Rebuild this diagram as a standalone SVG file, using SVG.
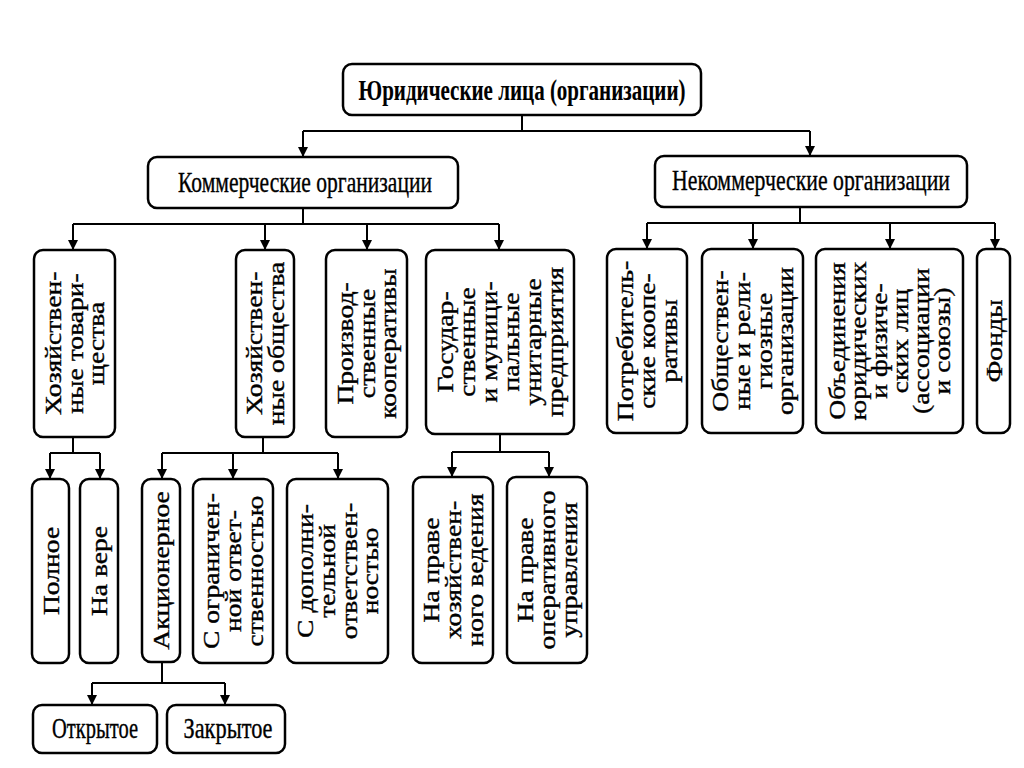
<svg xmlns="http://www.w3.org/2000/svg" width="1024" height="768" viewBox="0 0 1024 768">
<style>
.box{fill:#fff;stroke:#000;stroke-width:2.5}
.ln{fill:none;stroke:#000;stroke-width:2}
.t{font-family:"Liberation Serif","Times New Roman",serif;font-size:23px;fill:#000;stroke:#000;stroke-width:0.35;text-anchor:middle}
.h{font-family:"Liberation Serif","Times New Roman",serif;font-size:24px;fill:#000;stroke:#000;stroke-width:0.3;text-anchor:middle}
.b{font-weight:bold;stroke-width:0.1}
</style>
<defs>
<marker id="ar" viewBox="0 0 10 10" refX="10" refY="5" markerWidth="14" markerHeight="10" markerUnits="userSpaceOnUse" orient="auto">
<path d="M0,0 L10,5 L0,10 Z" fill="#000"/>
</marker>
</defs>
<rect width="1024" height="768" fill="#fff"/>

<g id="connectors">
<path class="ln" d="M522,115 V131 M303,131 H810"/>
<path class="ln" d="M303,131 V157" marker-end="url(#ar)"/>
<path class="ln" d="M810,131 V156" marker-end="url(#ar)"/>

<path class="ln" d="M303,208 V224 M73,224 H499"/>
<path class="ln" d="M73,224 V250" marker-end="url(#ar)"/>
<path class="ln" d="M265,224 V250" marker-end="url(#ar)"/>
<path class="ln" d="M367,224 V250" marker-end="url(#ar)"/>
<path class="ln" d="M499,224 V250" marker-end="url(#ar)"/>

<path class="ln" d="M800,207 V223 M647,223 H995"/>
<path class="ln" d="M647,223 V249" marker-end="url(#ar)"/>
<path class="ln" d="M753,223 V249" marker-end="url(#ar)"/>
<path class="ln" d="M890,223 V249" marker-end="url(#ar)"/>
<path class="ln" d="M995,223 V249" marker-end="url(#ar)"/>

<path class="ln" d="M73,437 V453 M50,453 H100"/>
<path class="ln" d="M50,453 V479" marker-end="url(#ar)"/>
<path class="ln" d="M100,453 V479" marker-end="url(#ar)"/>

<path class="ln" d="M263,437 V453 M162,453 H338"/>
<path class="ln" d="M162,453 V479" marker-end="url(#ar)"/>
<path class="ln" d="M233,453 V479" marker-end="url(#ar)"/>
<path class="ln" d="M338,453 V479" marker-end="url(#ar)"/>

<path class="ln" d="M500,434 V452 M452,452 H549"/>
<path class="ln" d="M452,452 V477" marker-end="url(#ar)"/>
<path class="ln" d="M549,452 V477" marker-end="url(#ar)"/>

<path class="ln" d="M162,662 V683 M92,683 H225"/>
<path class="ln" d="M92,683 V705" marker-end="url(#ar)"/>
<path class="ln" d="M225,683 V705" marker-end="url(#ar)"/>
</g>

<g id="n-root">
<rect class="box" x="343" y="64" width="358" height="51" rx="9"/>
<text class="h b" transform="translate(522,100) scale(1,1.2)" textLength="327" lengthAdjust="spacingAndGlyphs">Юридические лица (организации)</text>
</g>

<g id="n-commercial">
<rect class="box" x="148" y="157" width="310" height="51" rx="9"/>
<text class="h" transform="translate(305,192) scale(1,1.2)" textLength="254" lengthAdjust="spacingAndGlyphs">Коммерческие организации</text>
</g>

<g id="n-noncommercial">
<rect class="box" x="655" y="156" width="312" height="51" rx="9"/>
<text class="h" transform="translate(811,190) scale(1,1.2)" textLength="278" lengthAdjust="spacingAndGlyphs">Некоммерческие организации</text>
</g>

<g id="n-hoz-tov">
<rect class="box" x="34" y="250" width="81" height="187" rx="9"/>
<text class="t" transform="translate(74.5,343.5) scale(1,1.2) rotate(-90)"><tspan x="0" y="-14">Хозяйствен-</tspan><tspan x="0" y="8">ные товари-</tspan><tspan x="0" y="30">щества</tspan></text>
</g>

<g id="n-hoz-obsh">
<rect class="box" x="236" y="250" width="58" height="187" rx="9"/>
<text class="t" transform="translate(265,343.5) scale(1,1.2) rotate(-90)"><tspan x="0" y="-3">Хозяйствен-</tspan><tspan x="0" y="19">ные общества</tspan></text>
</g>

<g id="n-proizv">
<rect class="box" x="326" y="250" width="81" height="187" rx="9"/>
<text class="t" transform="translate(366.5,343.5) scale(1,1.2) rotate(-90)"><tspan x="0" y="-14">Производ-</tspan><tspan x="0" y="8">ственные</tspan><tspan x="0" y="30">кооперативы</tspan></text>
</g>

<g id="n-gos">
<rect class="box" x="426" y="250" width="148" height="184" rx="9"/>
<text class="t" transform="translate(500,342) scale(1,1.2) rotate(-90)"><tspan x="0" y="-47">Государ-</tspan><tspan x="0" y="-25">ственные</tspan><tspan x="0" y="-3">и муници-</tspan><tspan x="0" y="19">пальные</tspan><tspan x="0" y="41">унитарные</tspan><tspan x="0" y="63">предприятия</tspan></text>
</g>

<g id="n-potreb">
<rect class="box" x="607" y="249" width="80" height="184" rx="9"/>
<text class="t" transform="translate(647,341) scale(1,1.2) rotate(-90)"><tspan x="0" y="-14">Потребитель-</tspan><tspan x="0" y="8">ские коопе-</tspan><tspan x="0" y="30">ративы</tspan></text>
</g>

<g id="n-obsh">
<rect class="box" x="702" y="249" width="101" height="184" rx="9"/>
<text class="t" transform="translate(752.5,341) scale(1,1.2) rotate(-90)"><tspan x="0" y="-25">Обществен-</tspan><tspan x="0" y="-3">ные и рели-</tspan><tspan x="0" y="19">гиозные</tspan><tspan x="0" y="41">организации</tspan></text>
</g>

<g id="n-obed">
<rect class="box" x="816" y="249" width="147" height="184" rx="9"/>
<text class="t" transform="translate(889.5,341) scale(1,1.2) rotate(-90)"><tspan x="0" y="-44.5">Объединения</tspan><tspan x="0" y="-23.5">юридических</tspan><tspan x="0" y="-2.5">и физиче-</tspan><tspan x="0" y="18.5">ских лиц</tspan><tspan x="0" y="39.5">(ассоциации</tspan><tspan x="0" y="60.5">и союзы)</tspan></text>
</g>

<g id="n-fondy">
<rect class="box" x="977" y="249" width="33" height="184" rx="9"/>
<text class="t" transform="translate(993.5,341) scale(1,1.2) rotate(-90)"><tspan x="0" y="8">Фонды</tspan></text>
</g>

<g id="n-polnoe">
<rect class="box" x="32" y="479" width="37" height="184" rx="9"/>
<text class="t" transform="translate(50.5,571) scale(1,1.2) rotate(-90)"><tspan x="0" y="8">Полное</tspan></text>
</g>

<g id="n-navere">
<rect class="box" x="80" y="479" width="38" height="184" rx="9"/>
<text class="t" transform="translate(99,571) scale(1,1.2) rotate(-90)"><tspan x="0" y="8">На вере</tspan></text>
</g>

<g id="n-akc">
<rect class="box" x="142" y="479" width="38" height="183" rx="9"/>
<text class="t" transform="translate(161,570.5) scale(1,1.2) rotate(-90)"><tspan x="0" y="8">Акционерное</tspan></text>
</g>

<g id="n-ogr">
<rect class="box" x="193" y="479" width="80" height="184" rx="9"/>
<text class="t" transform="translate(233,571) scale(1,1.2) rotate(-90)"><tspan x="0" y="-14">С ограничен-</tspan><tspan x="0" y="8">ной ответ-</tspan><tspan x="0" y="30">ственностью</tspan></text>
</g>

<g id="n-dop">
<rect class="box" x="287" y="479" width="101" height="184" rx="9"/>
<text class="t" transform="translate(337.5,571) scale(1,1.2) rotate(-90)"><tspan x="0" y="-25">С дополни-</tspan><tspan x="0" y="-3">тельной</tspan><tspan x="0" y="19">ответствен-</tspan><tspan x="0" y="41">ностью</tspan></text>
</g>

<g id="n-hozved">
<rect class="box" x="413" y="477" width="80" height="186" rx="9"/>
<text class="t" transform="translate(453,570) scale(1,1.2) rotate(-90)"><tspan x="0" y="-14">На праве</tspan><tspan x="0" y="8">хозяйствен-</tspan><tspan x="0" y="30">ного ведения</tspan></text>
</g>

<g id="n-oper">
<rect class="box" x="507" y="477" width="80" height="186" rx="9"/>
<text class="t" transform="translate(547,570) scale(1,1.2) rotate(-90)"><tspan x="0" y="-14">На праве</tspan><tspan x="0" y="8">оперативного</tspan><tspan x="0" y="30">управления</tspan></text>
</g>

<g id="n-otkr">
<rect class="box" x="33" y="705" width="124" height="48" rx="9"/>
<text class="h" transform="translate(95,738) scale(1,1.2)" textLength="86" lengthAdjust="spacingAndGlyphs">Открытое</text>
</g>

<g id="n-zakr">
<rect class="box" x="167" y="705" width="118" height="48" rx="9"/>
<text class="h" transform="translate(228,738) scale(1,1.2)" textLength="89" lengthAdjust="spacingAndGlyphs">Закрытое</text>
</g>
</svg>
